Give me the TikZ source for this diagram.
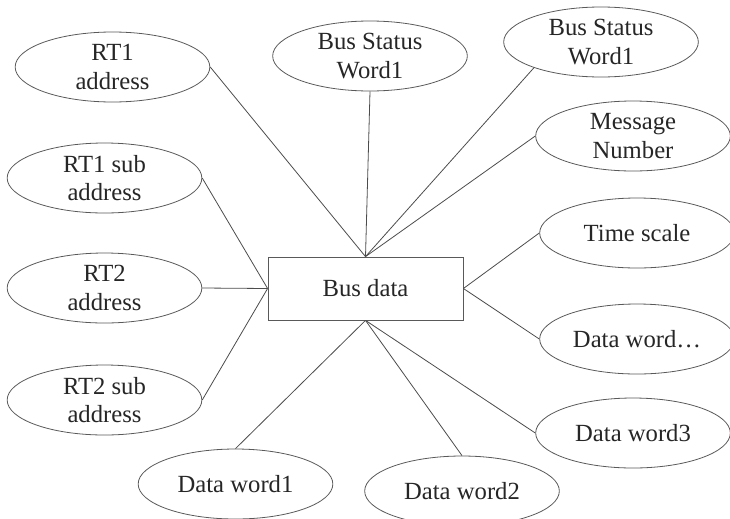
\documentclass[tikz,border=0pt]{standalone}
\usepackage{fontspec}
\setmainfont{Liberation Serif}
\usetikzlibrary{shapes.geometric}
\begin{document}
\begin{tikzpicture}[x=0.75pt,y=-0.75pt,
  every node/.style={font=\fontsize{18.5}{21.3}\selectfont, text=black!85},
  oval/.style={ellipse, draw=black!65, line width=0.6pt, align=center,
    minimum width=146pt, minimum height=52.5pt, inner xsep=0pt, inner ysep=-3pt},
  box/.style={rectangle, draw=black!65, line width=0.6pt,
    minimum width=146.25pt, minimum height=47.25pt, inner sep=0pt},
  link/.style={draw=black!70, line width=0.6pt}]
\useasboundingbox (0,0) rectangle (730,518);
\clip (0,0) rectangle (730,518);
\node[box] (bus) at (365.5,288.5) {Bus data};
\node[oval] (rt1a) at (112.5,67) {RT1\\address};
\node[oval] (rt1s) at (104.5,178) {RT1 sub\\address};
\node[oval] (rt2a) at (104.5,288) {RT2\\address};
\node[oval] (rt2s) at (104.5,400) {RT2 sub\\address};
\node[oval] (bsw1) at (370,56) {Bus Status\\Word1};
\node[oval] (bsw2) at (601,42) {Bus Status\\Word1};
\node[oval] (msg) at (633,136) {Message\\Number};
\node[oval] (time) at (637,233) {Time scale};
\node[oval] (dwd) at (637,339) {Data word…};
\node[oval] (dw3) at (633,433) {Data word3};
\node[oval] (dw1) at (235.5,484) {Data word1};
\node[oval] (dw2) at (462,491) {Data word2};
\draw[link] (rt1a.east) -- (bus.north);
\draw[link] (bsw1.south) -- (bus.north);
\draw[link] (bsw2.201) -- (bus.north);
\draw[link] (msg.west) -- (bus.north);
\draw[link] (rt1s.east) -- (bus.west);
\draw[link] (rt2a.east) -- (bus.west);
\draw[link] (rt2s.east) -- (bus.west);
\draw[link] (time.west) -- (bus.east);
\draw[link] (dwd.west) -- (bus.east);
\draw[link] (dw3.west) -- (bus.south);
\draw[link] (dw1.north) -- (bus.south);
\draw[link] (dw2.north) -- (bus.south);
\end{tikzpicture}
\end{document}
